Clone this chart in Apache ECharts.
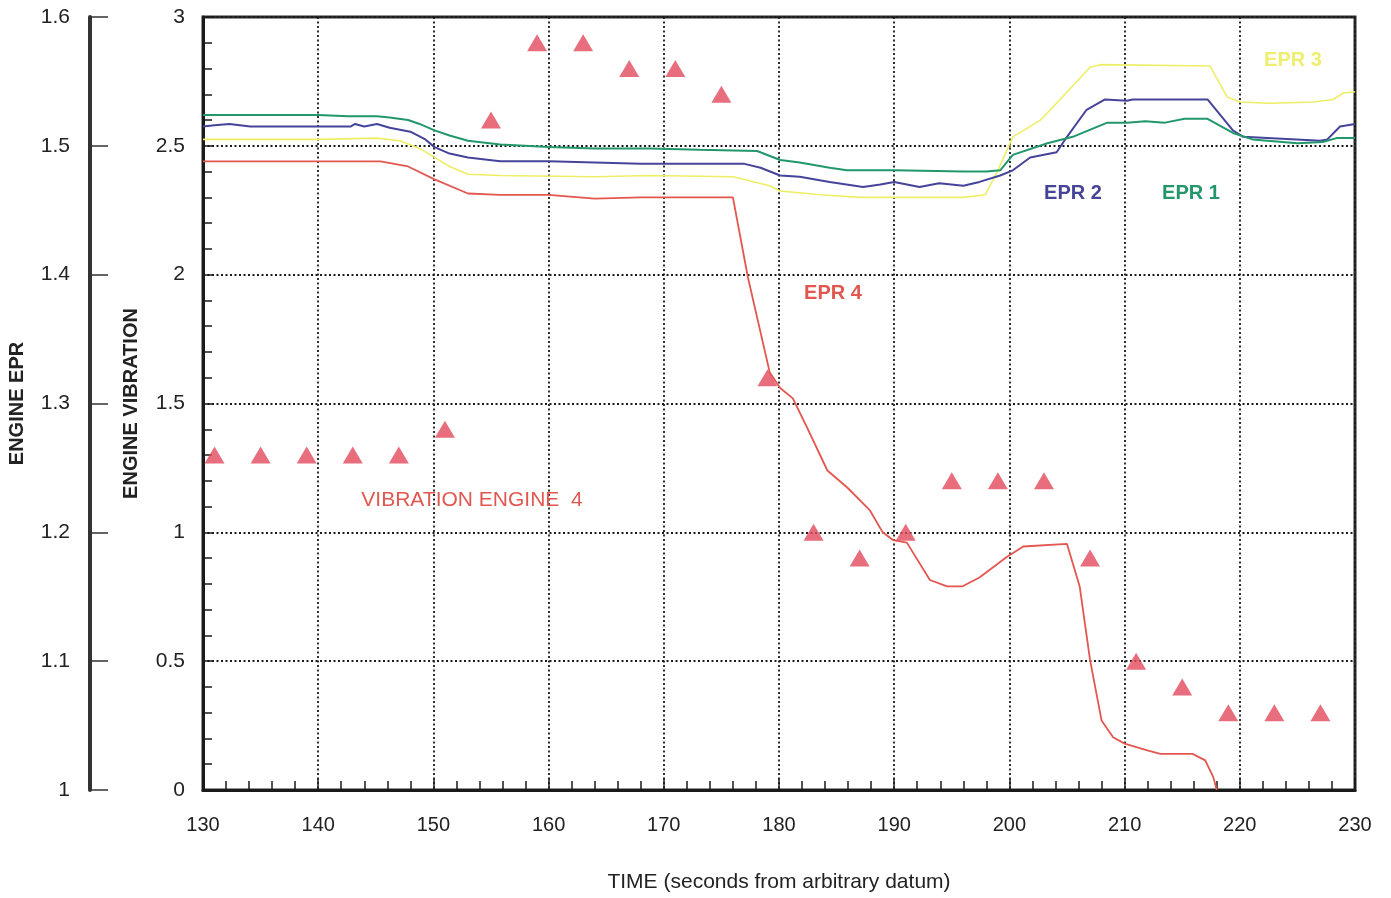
<!DOCTYPE html>
<html>
<head>
<meta charset="utf-8">
<script src="https://cdn.jsdelivr.net/npm/echarts@6/dist/echarts.min.js"></script>
<style>
html,body{margin:0;padding:0;background:#fff;}
#chart{width:1391px;height:898px;}
</style>
</head>
<body>
<div id="chart"></div>
<script>
// ---- data (time in seconds, EPR values, vibration values) ----
const epr1 = [[130,1.524],[140,1.524],[142.6,1.523],[145.1,1.523],[146.2,1.522],[147.8,1.520],[148.8,1.517],[150.1,1.512],[151.4,1.508],[153,1.504],[155.8,1.501],[160,1.499],[164,1.498],[168.8,1.498],[173.1,1.497],[178.1,1.496],[180.1,1.489],[181.8,1.487],[184.4,1.483],[185.9,1.481],[190,1.481],[196,1.480],[198,1.480],[199.2,1.481],[200.3,1.493],[203.3,1.502],[205.5,1.507],[208.5,1.518],[210.2,1.518],[211.8,1.519],[213.5,1.518],[215.2,1.521],[217.2,1.521],[219.4,1.510],[221.1,1.505],[225,1.502],[227.2,1.503],[228.4,1.506],[230,1.506]];
const epr2 = [[130,1.515],[131,1.516],[132.3,1.517],[134.1,1.515],[140,1.515],[142.8,1.515],[143.2,1.517],[144,1.515],[145.1,1.517],[146.2,1.514],[148,1.511],[149.3,1.505],[150.1,1.499],[151.4,1.494],[153,1.491],[155.8,1.488],[160,1.488],[168,1.486],[173.1,1.486],[177,1.486],[178.4,1.483],[180.1,1.477],[181.8,1.476],[184.4,1.472],[187.3,1.468],[188.8,1.470],[190,1.472],[192.2,1.468],[193.9,1.471],[196,1.469],[197.4,1.472],[199.2,1.477],[200.3,1.481],[201.8,1.491],[204.1,1.495],[205,1.507],[206.7,1.528],[208.3,1.536],[210.2,1.535],[210.7,1.536],[217.2,1.536],[219.4,1.512],[220.3,1.507],[227,1.504],[227.6,1.505],[228.7,1.515],[230,1.517]];
const epr3 = [[130,1.505],[140,1.505],[145.1,1.506],[147.1,1.504],[148.8,1.498],[150.1,1.491],[151.4,1.484],[153,1.478],[155.8,1.477],[164,1.476],[168.8,1.477],[176,1.476],[179.2,1.469],[180.1,1.465],[183.6,1.462],[187,1.460],[196,1.460],[197.9,1.462],[198.9,1.479],[200.3,1.507],[202.7,1.520],[204.4,1.536],[207,1.561],[207.9,1.563],[217.4,1.562],[218.9,1.538],[220,1.534],[222.6,1.533],[226.4,1.534],[228.1,1.536],[229,1.541],[230,1.542]];
const epr4 = [[130,1.488],[140,1.488],[145.4,1.488],[147.8,1.484],[150.1,1.474],[153,1.463],[155.8,1.462],[160,1.462],[164,1.459],[168,1.460],[173.1,1.460],[176,1.460],[177.3,1.398],[179.2,1.324],[180.1,1.312],[181.2,1.304],[182.4,1.282],[184.2,1.248],[185.9,1.235],[187.9,1.217],[189,1.200],[189.9,1.194],[191.1,1.192],[193.1,1.163],[194.6,1.158],[195.9,1.158],[197.4,1.165],[199.8,1.181],[201.2,1.189],[205,1.191],[206.1,1.158],[207,1.101],[208,1.054],[209,1.041],[210,1.036],[211.9,1.031],[213.1,1.028],[215.9,1.028],[217,1.023],[217.7,1.010],[218,1.000]];
const vibTimes = [131,135,139,143,147,151,155,159,163,167,171,175,179,183,187,191,195,199,203,207,211,215,219,223,227];
const vibValues = [1.3,1.3,1.3,1.3,1.3,1.4,2.6,2.9,2.9,2.8,2.8,2.7,1.6,1.0,0.9,1.0,1.2,1.2,1.2,0.9,0.5,0.4,0.3,0.3,0.3];
const timeTicks = [130,140,150,160,170,180,190,200,210,220,230];

const FONT = "'Liberation Sans', Arial, sans-serif";
const NARROW = "'Liberation Sans Narrow','Liberation Sans',Arial,sans-serif";
const chart = echarts.init(document.getElementById('chart'), null, {renderer:'canvas'});

const labels = [
  {text:'EPR 3', x:1293, y:60, color:'#eeee70'},
  {text:'EPR 2', x:1073, y:193, color:'#46449a'},
  {text:'EPR 1', x:1191, y:193, color:'#22976a'},
  {text:'EPR 4', x:833, y:293, color:'#e2574f'},
  {text:'VIBRATION ENGINE  4', x:472, y:500, color:'#e2574f', weight:'normal', size:21}
];

const option = {
  animation:false,
  backgroundColor:'#ffffff',
  grid:{left:203, top:17, width:1152, height:773, show:true, borderColor:'#2a2a2a', borderWidth:3,
        backgroundColor:'transparent', containLabel:false, outerBoundsMode:'none'},
  xAxis:{
    type:'value', min:130, max:230, interval:10,
    axisLine:{show:true, lineStyle:{color:'#1a1a1a', width:3}},
    axisTick:{show:true, inside:true, length:12, lineStyle:{color:'#1a1a1a', width:1.5}},
    minorTick:{show:true, splitNumber:5, length:9, lineStyle:{color:'#1a1a1a', width:1.5}},
    splitLine:{show:true, lineStyle:{color:'#1a1a1a', type:[2,2.5], width:1.8}},
    axisLabel:{color:'#222', fontSize:20, fontFamily:FONT, margin:25,
      formatter:v => timeTicks.includes(v) ? String(v) : ''},
    name:'TIME (seconds from arbitrary datum)', nameLocation:'middle', nameGap:82,
    nameTextStyle:{color:'#222', fontSize:21, fontFamily:FONT}
  },
  yAxis:[
    {
      type:'value', min:0, max:3, interval:0.5, position:'left',
      axisLine:{show:true, lineStyle:{color:'#1a1a1a', width:3}},
      axisTick:{show:true, inside:true, length:10, lineStyle:{color:'#1a1a1a', width:1.5}},
      minorTick:{show:true, splitNumber:5, length:9, lineStyle:{color:'#1a1a1a', width:1.5}},
      splitLine:{show:true, lineStyle:{color:'#1a1a1a', type:[2,2.5], width:1.8}},
      axisLabel:{color:'#222', fontSize:21, fontFamily:FONT, margin:18,
        formatter:v => String(v)},
      name:'ENGINE VIBRATION', nameLocation:'middle', nameGap:62, nameRotate:90,
      nameTextStyle:{color:'#222', fontSize:20, fontWeight:'bold', fontFamily:NARROW}
    },
    {
      type:'value', min:1, max:1.6, interval:0.1, position:'left', offset:113,
      axisLine:{show:true, lineStyle:{color:'#333', width:4}},
      axisTick:{show:true, inside:true, length:18, lineStyle:{color:'#333', width:1.5}},
      splitLine:{show:false},
      axisLabel:{color:'#222', fontSize:21, fontFamily:FONT, margin:20,
        formatter:v => (Math.round(v*10)/10).toString()},
      name:'ENGINE EPR', nameLocation:'middle', nameGap:63, nameRotate:90,
      nameTextStyle:{color:'#222', fontSize:20, fontWeight:'bold', fontFamily:NARROW}
    }
  ],
  series:[
    {name:'EPR 3', type:'line', yAxisIndex:1, data:epr3, showSymbol:false, lineStyle:{color:'#eeee66', width:1.6}, z:3},
    {name:'EPR 4', type:'line', yAxisIndex:1, data:epr4, showSymbol:false, lineStyle:{color:'#e2574f', width:1.8}, z:4},
    {name:'EPR 2', type:'line', yAxisIndex:1, data:epr2, showSymbol:false, lineStyle:{color:'#46449a', width:2}, z:5},
    {name:'EPR 1', type:'line', yAxisIndex:1, data:epr1, showSymbol:false, lineStyle:{color:'#22976a', width:2}, z:6},
    {name:'VIBRATION ENGINE 4', type:'scatter', yAxisIndex:0,
      data:vibTimes.map((t,i)=>[t, vibValues[i]]),
      symbol:'triangle', symbolSize:[20,17], itemStyle:{color:'#e24a5c'}, z:7}
  ],
  graphic: labels.map(l => ({
    type:'text', x:l.x, y:l.y, z:10,
    style:{text:l.text, fill:l.color, font:`${l.weight||'bold'} ${l.size||20}px ${FONT}`, align:'center', verticalAlign:'middle'}
  }))
};
chart.setOption(option);
</script>
</body>
</html>
